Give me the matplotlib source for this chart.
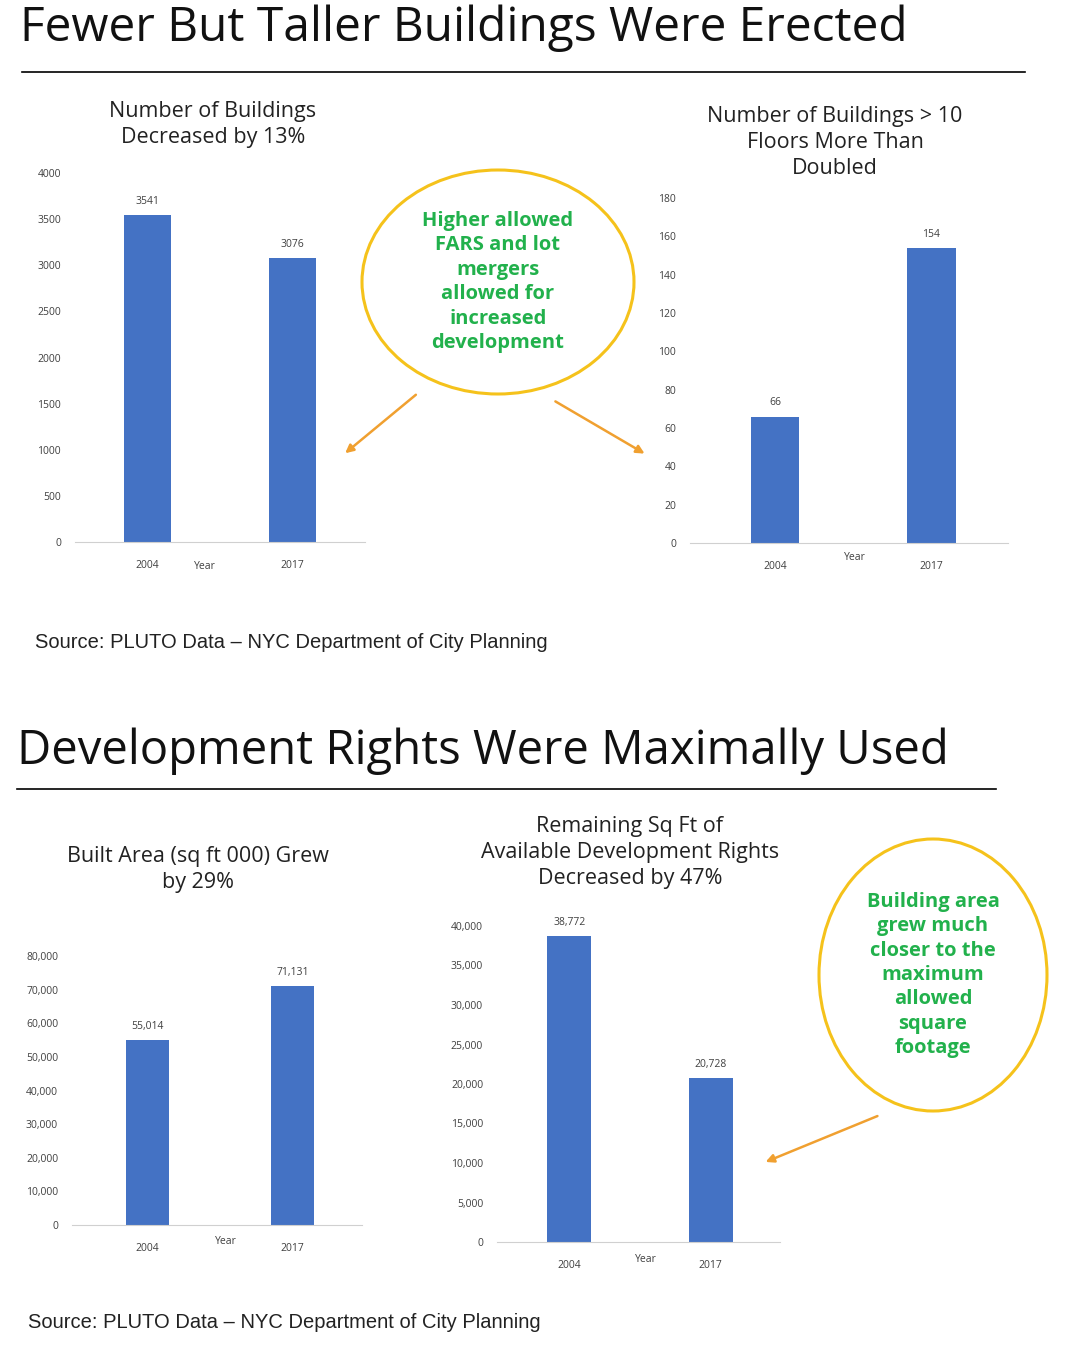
import matplotlib.pyplot as plt
from matplotlib.patches import Ellipse, FancyArrowPatch
from matplotlib.lines import Line2D

W, H = 1068, 1349
BLUE = "#4472c4"
GREEN = "#22b14c"
YELLOW = "#f5c21b"
ORANGE = "#f0a030"

years = ["2004", "2017"]
buildings = [3541, 3076]
tall_buildings = [66, 154]
built_area = [55014, 71131]
remaining_rights = [38772, 20728]

plt.rcParams["font.family"] = ["Open Sans", "DejaVu Sans"]
fig = plt.figure(figsize=(W / 100, H / 100), dpi=100)


def px_axes(x0, y0, x1, y1):
    """Axes from pixel box (top-left origin)."""
    return fig.add_axes([x0 / W, 1 - y1 / H, (x1 - x0) / W, (y1 - y0) / H])


def px(x, y):
    return x / W, 1 - y / H


def bar_chart(box, values, ymax, step, xlim, width, fmt, year_x, title, title_xy):
    ax = px_axes(*box)
    ax.bar([0, 1], values, width=width, color=BLUE)
    ax.set_xlim(*xlim)
    ax.set_ylim(0, ymax)
    ax.set_yticks(range(0, ymax + 1, step))
    ax.set_yticklabels([fmt(v) for v in range(0, ymax + 1, step)])
    ax.set_xticks([0, 1])
    ax.set_xticklabels(years)
    ax.tick_params(axis="x", length=0, labelsize=7.5, colors="#404040", pad=13)
    ax.tick_params(axis="y", length=0, labelsize=7.5, colors="#404040", pad=10)
    for s in ["top", "right", "left"]:
        ax.spines[s].set_visible(False)
    ax.spines["bottom"].set_color("#d0d0d0")
    for i, v in enumerate(values):
        ax.annotate(fmt(v), (i, v), xytext=(0, 8), textcoords="offset points",
                    ha="center", fontsize=7.5, color="#404040")
    fig.text(*px(*year_x), "Year", fontsize=7.5, color="#404040", ha="center", va="center")
    fig.text(*px(*title_xy), title, fontsize=15.5, ha="center", va="top",
             linespacing=1.3, color="#222222")
    return ax


plain = lambda v: f"{v}"
comma = lambda v: f"{v:,}"

bar_chart((75, 173, 365, 542), buildings, 4000, 500, (-0.5, 1.5), 0.33, plain,
          (205, 566), "Number of Buildings\nDecreased by 13%", (213, 101))
bar_chart((690, 198, 1008, 543), tall_buildings, 180, 20, (-0.545, 1.49), 0.31, plain,
          (855, 557), "Number of Buildings > 10\nFloors More Than\nDoubled", (835, 106))
bar_chart((72, 956, 362, 1225), built_area, 80000, 10000, (-0.52, 1.48), 0.3, comma,
          (226, 1242), "Built Area (sq ft 000) Grew\nby 29%", (198, 846))
bar_chart((497, 926, 780, 1242), remaining_rights, 40000, 5000, (-0.51, 1.49), 0.31, comma,
          (646, 1259), "Remaining Sq Ft of\nAvailable Development Rights\nDecreased by 47%",
          (630, 816))

# headings
fig.text(*px(20, 28), "Fewer But Taller Buildings Were Erected", fontsize=34.5,
         va="center", color="#111111")
fig.text(*px(17, 751), "Development Rights Were Maximally Used", fontsize=34,
         va="center", color="#111111")
fig.add_artist(Line2D([22 / W, 1025 / W], [1 - 72 / H] * 2, color="black", lw=1.2))
fig.add_artist(Line2D([17 / W, 996 / W], [1 - 789 / H] * 2, color="black", lw=1.2))

# sources
for x, y in ((35, 643), (28, 1323)):
    fig.text(*px(x, y), "Source: PLUTO Data \u2013 NYC Department of City Planning",
             fontsize=14.5, family=["Liberation Sans"], va="center", color="#222222")

# callouts
fig.add_artist(Ellipse(px(498, 282), 272 / W, 224 / H, fill=False, ec=YELLOW, lw=2.2))
fig.text(*px(498, 282), "Higher allowed\nFARS and lot\nmergers\nallowed for\nincreased\ndevelopment",
         ha="center", va="center", fontsize=14.5, fontweight="bold", color=GREEN, linespacing=1.3)
fig.add_artist(Ellipse(px(933, 975), 228 / W, 272 / H, fill=False, ec=YELLOW, lw=2.2))
fig.text(*px(933, 975), "Building area\ngrew much\ncloser to the\nmaximum\nallowed\nsquare\nfootage",
         ha="center", va="center", fontsize=14.5, fontweight="bold", color=GREEN, linespacing=1.3)

for a, b in [((418, 393), (343, 455)), ((553, 400), (647, 455)), ((880, 1115), (763, 1163))]:
    fig.add_artist(FancyArrowPatch(px(*a), px(*b), transform=fig.transFigure,
                                   arrowstyle="-|>", mutation_scale=12, color=ORANGE, lw=1.8))

fig.savefig("out.png", dpi=100, facecolor="white")
